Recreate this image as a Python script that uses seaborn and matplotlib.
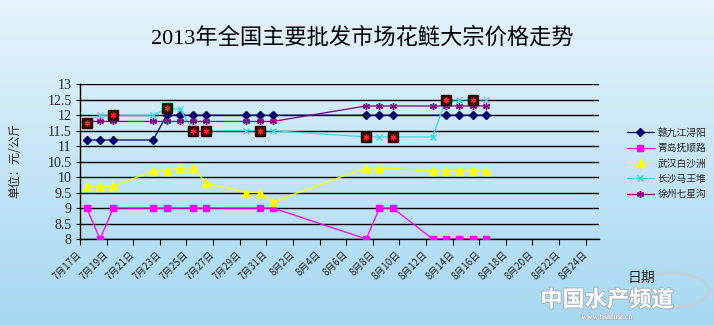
import numpy as np
import pandas as pd
import matplotlib
matplotlib.use("Agg")
import matplotlib.pyplot as plt
import matplotlib.patheffects as pe
from matplotlib.patches import Circle
import seaborn as sns

# ---------------- data ----------------
title = "2013年全国主要批发市场花鲢大宗价格走势"
start_date = "2013-07-17"
n_days = 39  # 7/17 .. 8/24

x_tick_labels = ["7月17日", "7月19日", "7月21日", "7月23日", "7月25日", "7月27日",
                 "7月29日", "7月31日", "8月2日", "8月4日", "8月6日", "8月8日",
                 "8月10日", "8月12日", "8月14日", "8月16日", "8月18日", "8月20日",
                 "8月22日", "8月24日"]
y_ticks = [8, 8.5, 9, 9.5, 10, 10.5, 11, 11.5, 12, 12.5, 13]
y_tick_labels = ["8", "8.5", "9", "9.5", "10", "10.5", "11", "11.5", "12", "12.5", "13"]

series_names = ["赣九江浔阳", "青岛抚顺路", "武汉白沙洲", "长沙马王堆", "徐州七星沟"]

jj_dates = ["07-17", "07-18", "07-19", "07-22", "07-23", "07-24", "07-25", "07-26",
            "07-29", "07-30", "07-31", "08-07", "08-08", "08-09",
            "08-13", "08-14", "08-15", "08-16"]
jj_vals = [11.2, 11.2, 11.2, 11.2, 12, 12, 12, 12,
           12, 12, 12, 12, 12, 12,
           12, 12, 12, 12]

qd_dates = ["07-17", "07-18", "07-19", "07-22", "07-23", "07-25", "07-26",
            "07-30", "07-31", "08-07", "08-08", "08-09",
            "08-12", "08-13", "08-14", "08-15", "08-16"]
qd_vals = [9, 8, 9, 9, 9, 9, 9,
           9, 9, 8, 9, 9,
           8, 8, 8, 8, 8]

wh_dates = ["07-17", "07-18", "07-19", "07-22", "07-23", "07-24", "07-25", "07-26",
            "07-29", "07-30", "07-31", "08-07", "08-08",
            "08-12", "08-13", "08-14", "08-15", "08-16"]
wh_vals = [9.7, 9.7, 9.7, 10.2, 10.2, 10.3, 10.3, 9.8,
           9.5, 9.5, 9.2, 10.3, 10.3,
           10.2, 10.2, 10.2, 10.2, 10.2]

cs_dates = ["07-17", "07-18", "07-19", "07-22", "07-23", "07-24", "07-25", "07-26",
            "07-29", "07-30", "07-31", "08-07", "08-08", "08-09",
            "08-12", "08-13", "08-14", "08-15", "08-16"]
cs_vals = [11.8, 12, 12, 12, 12.2, 12.2, 11.5, 11.5,
           11.5, 11.5, 11.5, 11.3, 11.3, 11.3,
           11.3, 12.5, 12.5, 12.5, 12.5]

xz_dates = ["07-17", "07-18", "07-19", "07-22", "07-23", "07-24", "07-25", "07-26",
            "07-29", "07-30", "07-31", "08-07", "08-08", "08-09",
            "08-12", "08-13", "08-14", "08-15", "08-16"]
xz_vals = [11.8, 11.8, 11.8, 11.8, 11.8, 11.8, 11.8, 11.8,
           11.8, 11.8, 11.8, 12.3, 12.3, 12.3,
           12.3, 12.3, 12.3, 12.3, 12.3]

# individually highlighted points (dark squares) on the 长沙马王堆 series
hl_dates = ["07-17", "07-19", "07-23", "07-25", "07-26", "07-30",
            "08-07", "08-09", "08-13", "08-15"]
hl_vals = [11.75, 12, 12.25, 11.5, 11.5, 11.5, 11.3, 11.3, 12.5, 12.5]

# ---------------- helpers ----------------
t0 = pd.Timestamp(start_date)


def to_x(dates):
    return [(pd.Timestamp("2013-" + d) - t0).days + 0.5 for d in dates]


sns.set_theme(style="white")
plt.rcParams['font.family'] = ['Liberation Serif', 'Noto Sans CJK SC', 'DejaVu Sans']
plt.rcParams['axes.unicode_minus'] = False

W, H = 714, 325
fig = plt.figure(figsize=(W / 100, H / 100), dpi=100)

# gradient background
bg = fig.add_axes([0, 0, 1, 1], zorder=-10)
g = np.linspace(0, 1, 256)[:, None, None]
top = np.array([229, 243, 252]) / 255
bot = np.array([166, 216, 241]) / 255
img = top + (bot - top) * g
bg.imshow(np.repeat(img, 2, axis=1), aspect='auto', extent=[0, 1, 0, 1], origin='upper')
bg.axis('off')

# watermark
bg.add_patch(Circle((672 / W, 1 - 290 / H), 0.052, transform=bg.transAxes,
                    fill=False, ec='#c8ccd0', lw=2.5, alpha=0.6))
bg.text(607 / W, 1 - 300 / H, "中国水产频道", ha='center', va='center',
        fontsize=16, fontweight='bold', style='italic', color='white', alpha=0.95,
        family=['Noto Sans CJK SC'],
        path_effects=[pe.withStroke(linewidth=1.6, foreground='#a9b6c0')])
bg.text(607 / W, 1 - 317 / H, "www.fishfirst.cn", ha='center', va='center',
        fontsize=5.5, color='white', alpha=0.9, family=['Liberation Serif'],
        path_effects=[pe.withStroke(linewidth=1.0, foreground='#b0bcc6')])
bg.set_xlim(0, 1)
bg.set_ylim(0, 1)

ax = fig.add_axes([80 / W, 1 - 239 / H, 519 / W, (239 - 84.3) / H])
ax.patch.set_alpha(0)

styles = [
    (jj_dates, jj_vals, '#000066', 'D', 4.2, '#000066'),
    (qd_dates, qd_vals, '#ff00ff', 's', 5.0, '#ff00ff'),
    (wh_dates, wh_vals, '#ffff00', '^', 6.0, '#ffff00'),
    (cs_dates, cs_vals, '#33dddd', 'x', 4.5, '#33dddd'),
    (xz_dates, xz_vals, '#800080', (6, 2, 0), 5.0, '#800080'),
]

for name, (dts, vals, color, mk, ms, mec) in zip(series_names, styles):
    df = pd.DataFrame({"x": to_x(dts), "y": vals})
    sns.lineplot(data=df, x="x", y="y", ax=ax, sort=False, color=color,
                 linewidth=0.9, marker=mk, markersize=ms, markeredgecolor=mec,
                 markerfacecolor=color, markeredgewidth=1.0, label=name,
                 zorder=3)

hl = pd.DataFrame({"x": to_x(hl_dates), "y": hl_vals})
ax.plot(hl["x"], hl["y"], ls='none', marker='s', markersize=6.5,
        markerfacecolor='#3e1008', markeredgecolor='#1e0602', zorder=4)
ax.plot(hl["x"], hl["y"], ls='none', marker=(6, 2, 0), markersize=4,
        markeredgecolor='#ff2a2a', markeredgewidth=0.9, zorder=5)

ax.set_xlim(0, n_days)
ax.set_ylim(8, 13)
ax.set_yticks(y_ticks)
ax.set_yticklabels(y_tick_labels, fontsize=10, family=['Liberation Serif'])
ax.set_xticks(np.arange(0, 2 * len(x_tick_labels), 2))
ax.set_xticklabels(x_tick_labels, rotation=45, ha='right', va='center',
                   rotation_mode='anchor', fontsize=7,
                   family=['Noto Sans CJK SC', 'DejaVu Sans'])
ax.tick_params(axis='x', direction='out', length=4, width=0.8, color='black', pad=6,
               bottom=True)
ax.tick_params(axis='y', direction='out', length=3, width=0.8, color='black', pad=3,
               left=True)
ax.yaxis.grid(True, color='black', linewidth=1.0)
ax.xaxis.grid(False)
ax.set_axisbelow(True)
for s in ['top', 'right']:
    ax.spines[s].set_visible(False)
for s in ['left', 'bottom']:
    ax.spines[s].set_color('black')
    ax.spines[s].set_linewidth(1.0)
ax.set_xlabel("")
ax.set_ylabel("")

handles, labels = ax.get_legend_handles_labels()
ax.get_legend().remove()
fig.legend(handles, labels, loc='upper left', bbox_to_anchor=(620 / W, 1 - 121 / H),
           frameon=False, prop={'family': ['Noto Sans CJK SC'], 'size': 7},
           handlelength=2.8, labelspacing=0.55, handletextpad=0.4, borderpad=0.2)

fig.text(362 / W, 1 - 38 / H, title, ha='center', va='center', fontsize=16,
         family=['Liberation Serif', 'Noto Sans CJK SC'], color='black')
fig.text(15 / W, 1 - 160 / H, "单位：元/公斤", rotation=90, ha='center', va='center',
         fontsize=8.5, family=['Noto Sans CJK SC'])
fig.text(641 / W, 1 - 278 / H, "日期", ha='center', va='center', fontsize=10,
         family=['Noto Sans CJK SC'])

fig.savefig("out.png", dpi=100)
